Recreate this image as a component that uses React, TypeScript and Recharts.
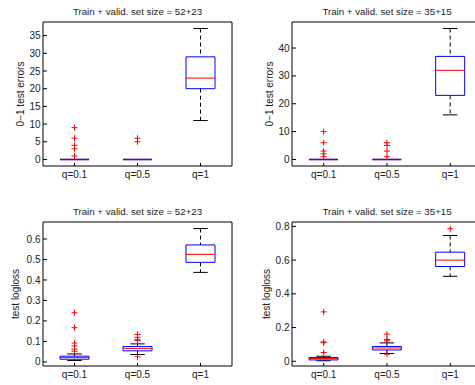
import { ComposedChart, Bar, Scatter, XAxis, YAxis, CartesianGrid } from 'recharts';

const categories = ['q=0.1', 'q=0.5', 'q=1'];

// [min, q1, median, q3, max] per category
const errStats5223 = [[0, 0, 0, 0, 0], [0, 0, 0, 0, 0], [11, 20, 23, 29, 37]];
const errOutliers5223 = [[1, 3, 4, 6, 9], [5, 6], []];
const errTicks5223 = [0, 5, 10, 15, 20, 25, 30, 35];

const errStats3515 = [[0, 0, 0, 0, 0], [0, 0, 0, 0, 0], [16, 23, 32, 37, 47]];
const errOutliers3515 = [[1, 2, 3, 6, 10], [1, 3, 5, 6], []];
const errTicks3515 = [0, 10, 20, 30, 40];

const logStats5223 = [
	[0.007, 0.013, 0.021, 0.028, 0.039],
	[0.036, 0.054, 0.066, 0.075, 0.088],
	[0.437, 0.486, 0.525, 0.571, 0.651],
];
const logOutliers5223 = [[0.052, 0.062, 0.078, 0.092, 0.167, 0.24], [0.025, 0.104, 0.11, 0.12, 0.134], []];
const logTicks5223 = [0, 0.1, 0.2, 0.3, 0.4, 0.5, 0.6];

const logStats3515 = [
	[0.003, 0.008, 0.016, 0.022, 0.03],
	[0.046, 0.067, 0.079, 0.088, 0.109],
	[0.504, 0.562, 0.6, 0.647, 0.746],
];
const logOutliers3515 = [[0.052, 0.11, 0.115, 0.293], [0.042, 0.121, 0.129, 0.161], [0.786]];
const logTicks3515 = [0, 0.2, 0.4, 0.6, 0.8];

const font = '"Liberation Sans", Arial, Helvetica, sans-serif';

function BoxShape(props: any) {
	const { x, y, width, height, payload } = props;
	const { min, q1, med, q3, max } = payload;
	const top = Math.min(y, y + height);
	const bottom = Math.max(y, y + height);
	const span = max - min;
	const py = (v: number) => (span === 0 ? bottom : bottom - ((bottom - top) * (v - min)) / span);
	const cx = x + width / 2;
	const cap = width / 4;
	const yq1 = py(q1);
	const yq3 = py(q3);
	const ymed = py(med);
	const flat = span === 0;
	return (
		<g>
			{max > q3 && <line x1={cx} x2={cx} y1={top} y2={yq3} stroke="#000" strokeDasharray="4 3" />}
			{min < q1 && <line x1={cx} x2={cx} y1={yq1} y2={bottom} stroke="#000" strokeDasharray="4 3" />}
			{!flat && <line x1={cx - cap} x2={cx + cap} y1={top} y2={top} stroke="#000" />}
			{!flat && <line x1={cx - cap} x2={cx + cap} y1={bottom} y2={bottom} stroke="#000" />}
			<path
				d={`M${x},${yq3}H${x + width}V${yq1}H${x}Z`}
				fill="none"
				stroke="#0000ff"
				strokeWidth={flat ? 1.6 : 1}
			/>
			<line
				x1={x}
				x2={x + width}
				y1={ymed}
				y2={ymed}
				stroke="#ff0000"
				strokeOpacity={flat ? 0.45 : 1}
				strokeWidth={flat ? 1.6 : 1}
			/>
		</g>
	);
}

function Plus(props: any) {
	const { cx, cy } = props;
	if (cx == null || cy == null) return null;
	return <path d={`M${cx - 3},${cy}H${cx + 3}M${cx},${cy - 3}V${cy + 3}`} stroke="#ff0000" strokeWidth={1} />;
}

function TitleLabel({ text, tx, ty }: any) {
	return (
		<text x={tx} y={ty} textAnchor="middle" fontSize={9.7} fontFamily={font} fill="#222">
			{text}
		</text>
	);
}

function YLabel({ text, tx, ty }: any) {
	return (
		<text
			x={tx}
			y={ty}
			transform={`rotate(-90 ${tx} ${ty})`}
			textAnchor="middle"
			dominantBaseline="central"
			fontSize={10}
			fontFamily={font}
			fill="#222"
		>
			{text}
		</text>
	);
}

function YTick(props: any) {
	const { x, y, payload } = props;
	return (
		<g>
			<line x1={x} x2={x + 4} y1={y} y2={y} stroke="#000" />
			<text x={x - 2.5} y={y} dy="0.355em" textAnchor="end" fontSize={10} fontFamily={font} fill="#222">
				{String(payload.value)}
			</text>
		</g>
	);
}

function XTick(props: any) {
	const { x, y, payload } = props;
	return (
		<g>
			<line x1={x} x2={x} y1={y} y2={y - 3} stroke="#000" />
			<text x={x} y={y + 4.5} dy="0.71em" textAnchor="middle" fontSize={10} fontFamily={font} fill="#222">
				{payload.value}
			</text>
		</g>
	);
}

function RightTick(props: any) {
	const { x, y } = props;
	return <line x1={x} x2={x - 4} y1={y} y2={y} stroke="#000" />;
}

function TopTick(props: any) {
	const { x, y } = props;
	return <line x1={x} x2={x} y1={y} y2={y + 3} stroke="#000" />;
}

type PanelProps = {
	left: number;
	top: number;
	width: number;
	axisWidth: number;
	stats: number[][];
	outliers: number[][];
	domain: [number, number];
	ticks: number[];
	title: string;
	ylabel: string;
	ylabelX: number;
};

function BoxPanel({ left, top, width, axisWidth, stats, outliers, domain, ticks, title, ylabel, ylabelX }: PanelProps) {
	const rows = categories.map((name, i) => ({
		name,
		min: stats[i][0],
		q1: stats[i][1],
		med: stats[i][2],
		q3: stats[i][3],
		max: stats[i][4],
	}));
	const points = categories.flatMap((name, i) => outliers[i].map((value) => ({ name, value })));
	const plotW = width - axisWidth - 5;

	return (
		<div style={{ position: 'absolute', left, top }}>
			<ComposedChart width={width} height={190} data={rows} margin={{ top: 22, right: 5, bottom: 0, left: 0 }} barSize={29}>
				<CartesianGrid
					stroke="#000"
					horizontalCoordinatesGenerator={({ offset }: any) => [offset.top, offset.top + offset.height]}
					verticalCoordinatesGenerator={({ offset }: any) => [offset.left, offset.left + offset.width]}
				/>
				<XAxis
					dataKey="name"
					allowDuplicatedCategory={false}
					height={24}
					axisLine={false}
					tickLine={false}
					tickSize={0}
					tickMargin={0}
					interval={0}
					tick={<XTick />}
					label={<TitleLabel text={title} tx={axisWidth + plotW / 2} ty={14.5} />}
				/>
				<XAxis
					xAxisId="t"
					dataKey="name"
					orientation="top"
					height={0}
					axisLine={false}
					tickLine={false}
					tickSize={0}
					tickMargin={0}
					interval={0}
					tick={<TopTick />}
				/>
				<YAxis
					type="number"
					domain={domain}
					ticks={ticks}
					allowDataOverflow
					width={axisWidth}
					axisLine={false}
					tickLine={false}
					tickSize={0}
					tickMargin={0}
					interval={0}
					tick={<YTick />}
					label={<YLabel text={ylabel} tx={ylabelX} ty={22 + 72} />}
				/>
				<YAxis
					yAxisId="r"
					orientation="right"
					type="number"
					domain={domain}
					ticks={ticks}
					allowDataOverflow
					width={0}
					axisLine={false}
					tickLine={false}
					tickSize={0}
					tickMargin={0}
					interval={0}
					tick={<RightTick />}
				/>
				<Bar dataKey={(d: any) => [d.min, d.max]} shape={<BoxShape />} isAnimationActive={false} />
				<Scatter data={points} dataKey="value" shape={<Plus />} isAnimationActive={false} />
			</ComposedChart>
		</div>
	);
}

export default function App() {
	return (
		<div style={{ position: 'absolute', left: 0, top: 0, width: 475, height: 385, overflow: 'hidden', background: '#fff' }}>
			<BoxPanel
				left={0}
				top={0}
				width={237}
				axisWidth={43}
				stats={errStats5223}
				outliers={errOutliers5223}
				domain={[-1.85, 38.85]}
				ticks={errTicks5223}
				title="Train + valid. set size = 52+23"
				ylabel="0−1 test errors"
				ylabelX={20.5}
			/>
			<BoxPanel
				left={237}
				top={0}
				width={250}
				axisWidth={55}
				stats={errStats3515}
				outliers={errOutliers3515}
				domain={[-2.35, 49.35]}
				ticks={errTicks3515}
				title="Train + valid. set size = 35+15"
				ylabel="0−1 test errors"
				ylabelX={32}
			/>
			<BoxPanel
				left={0}
				top={200}
				width={237}
				axisWidth={43}
				stats={logStats5223}
				outliers={logOutliers5223}
				domain={[-0.02, 0.683]}
				ticks={logTicks5223}
				title="Train + valid. set size = 52+23"
				ylabel="test logloss"
				ylabelX={15}
			/>
			<BoxPanel
				left={237}
				top={200}
				width={250}
				axisWidth={55}
				stats={logStats3515}
				outliers={logOutliers3515}
				domain={[-0.028, 0.826]}
				ticks={logTicks3515}
				title="Train + valid. set size = 35+15"
				ylabel="test logloss"
				ylabelX={29.7}
			/>
		</div>
	);
}
